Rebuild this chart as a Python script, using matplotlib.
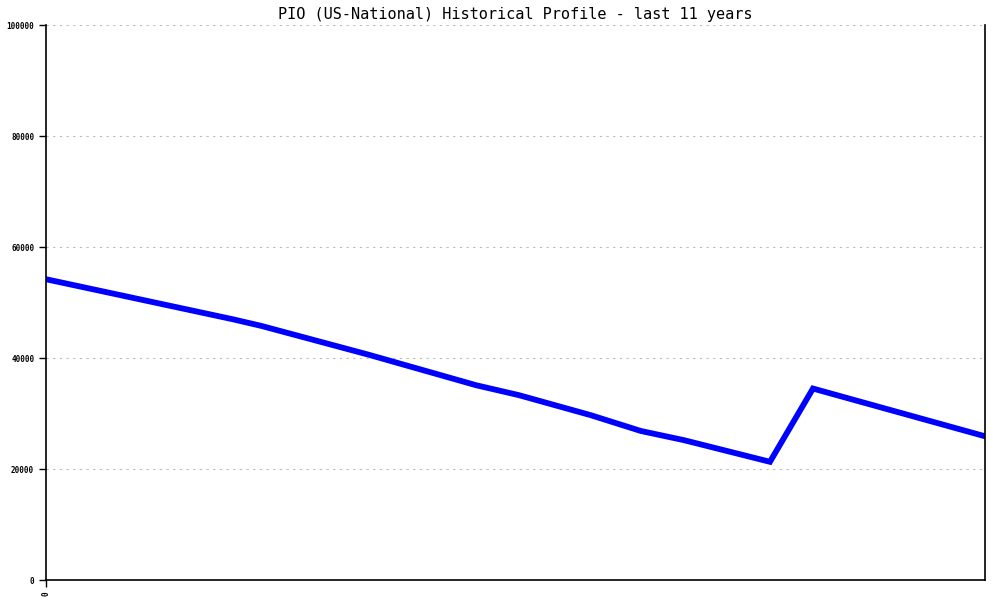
import numpy as np
import matplotlib
matplotlib.use("Agg")
import matplotlib.pyplot as plt

# monthly index over the 11 years
months = [0, 26, 30, 45, 60, 66, 76, 83, 89, 101, 107, 131]
values = [54200, 47000, 45800, 40600, 35100, 33300, 29700, 26850, 25200, 21300, 34500, 25900]
yticks = [0, 20000, 40000, 60000, 80000, 100000]
title = "PIO (US-National) Historical Profile - last 11 years"

fig = plt.figure(figsize=(10, 6), dpi=100)
ax = fig.add_axes([0.046, 0.0333, 0.939, 0.925])

ax.plot(months, values, color="#0000ff", lw=4.2, solid_joinstyle="miter")

ax.set_xlim(0, 131)
ax.set_ylim(0, 100000)
ax.set_yticks(yticks)
ax.set_yticklabels([str(v) for v in yticks], family="DejaVu Sans Mono",
                   fontsize=5.5, fontweight="bold")
ax.set_xticks([0])
ax.set_xticklabels(["0"], rotation=90, family="DejaVu Sans Mono",
                   fontsize=5.5, fontweight="bold")
ax.tick_params(axis="both", direction="out", length=5, width=1, color="black")

ax.yaxis.grid(True, linestyle=(0, (2, 4)), color="#bbbbbb", lw=0.8)
ax.set_axisbelow(True)
ax.spines["top"].set_visible(False)
for s in ["left", "bottom", "right"]:
    ax.spines[s].set_linewidth(1.2)

ax.set_title(title, family="DejaVu Sans Mono", fontsize=11, pad=4)

fig.savefig("out.png", dpi=100)
